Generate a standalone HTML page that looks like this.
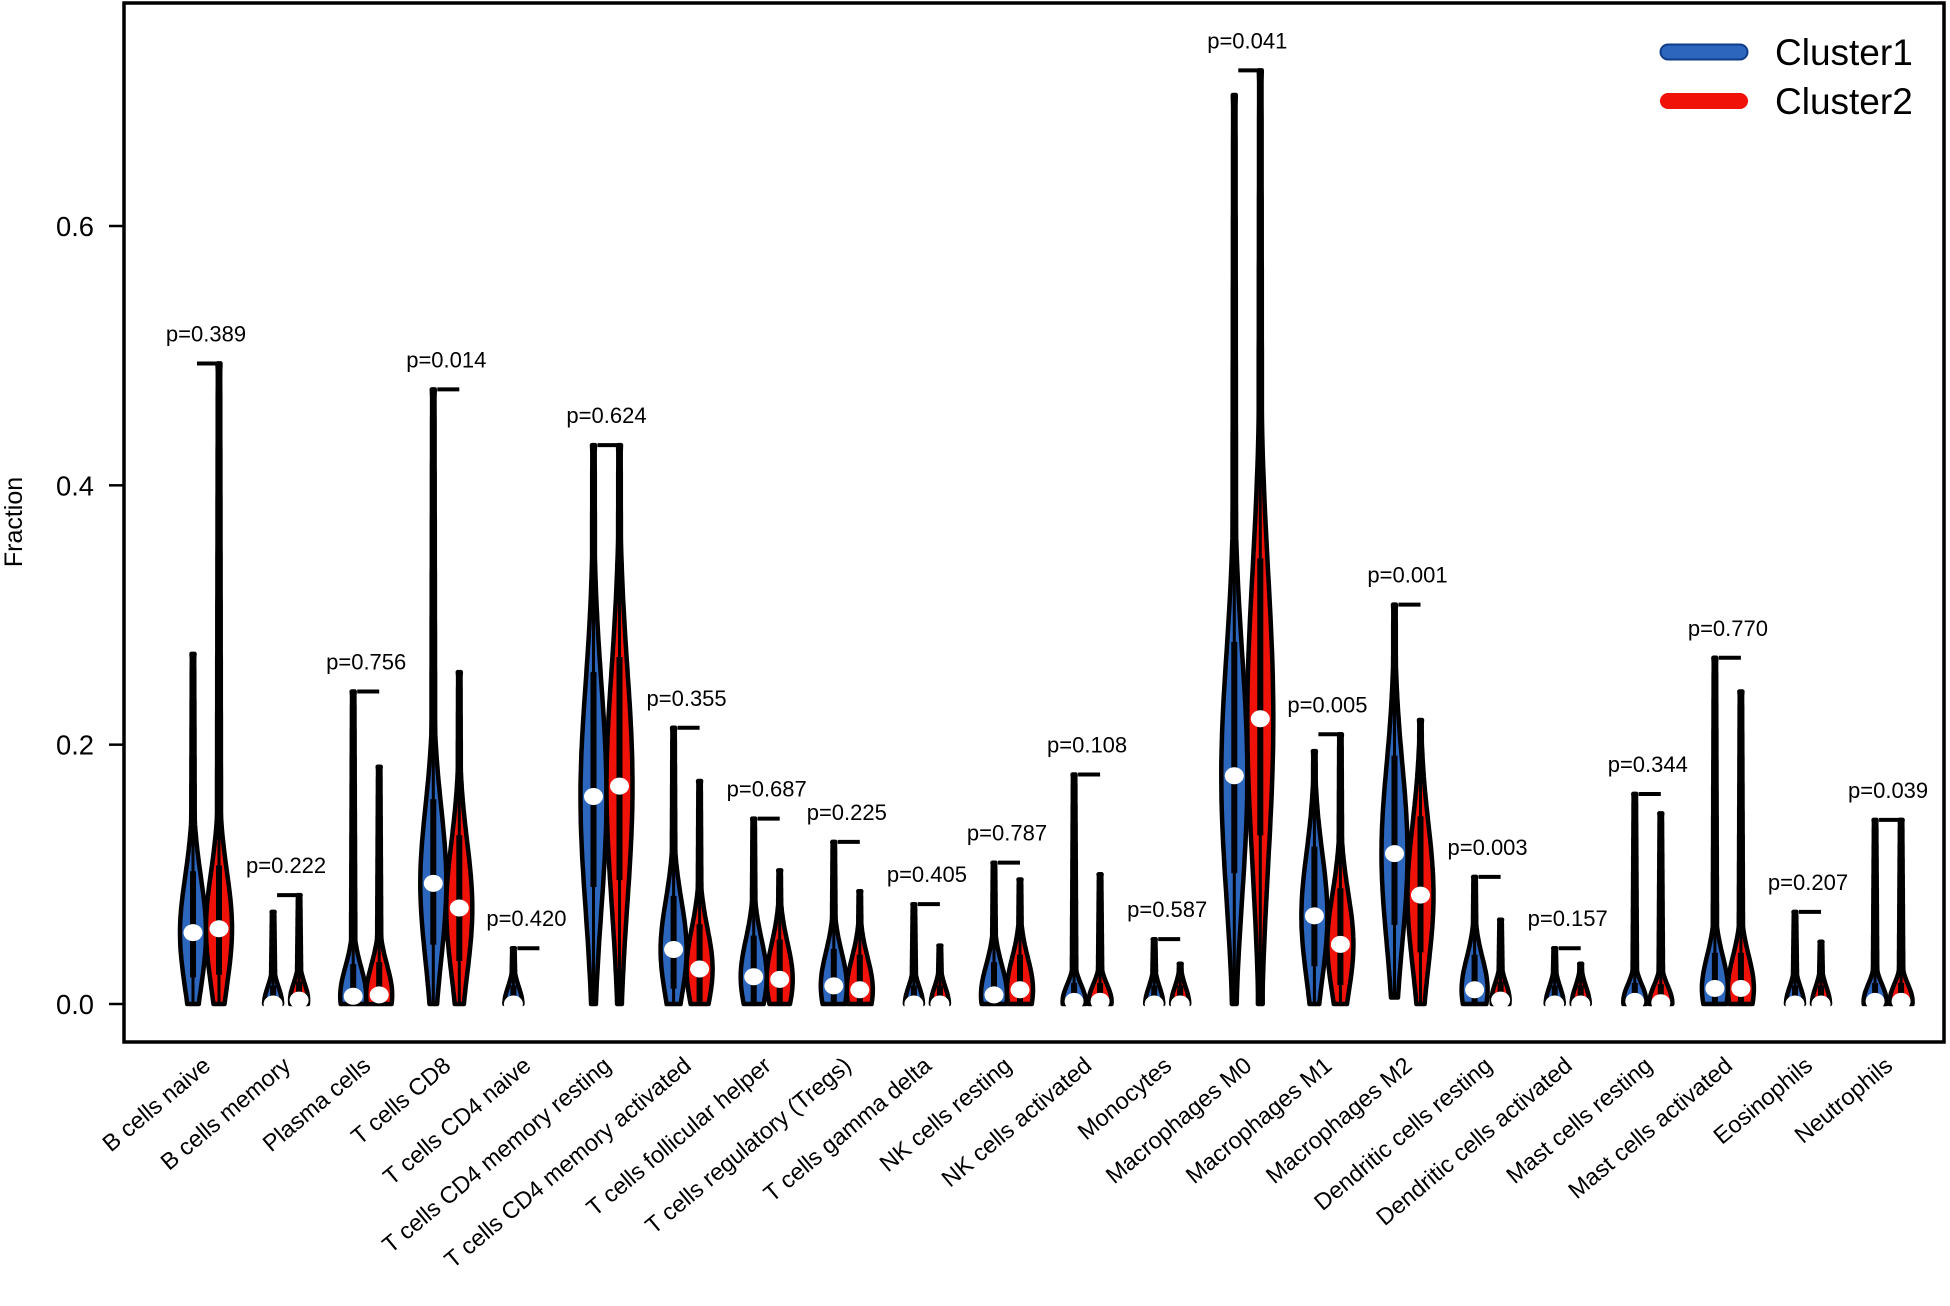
<!DOCTYPE html>
<html><head><meta charset="utf-8"><style>
html,body{margin:0;padding:0;background:#fff;}
svg{display:block;font-family:"Liberation Sans",Arial,sans-serif;}
</style></head><body>
<svg id="chart" width="1950" height="1306" viewBox="0 0 1950 1306">
<rect x="0" y="0" width="1950" height="1306" fill="#fff"/>
<g id="marks"></g>
<rect x="124" y="3" width="1820" height="1039" fill="none" stroke="#000" stroke-width="3.5"/>
<g id="yaxis"></g>
<g id="xaxis"></g>
<text x="22" y="522" transform="rotate(-90 22 522)" text-anchor="middle" font-size="25">Fraction</text>
<g>
<line x1="1668" y1="52" x2="1740" y2="52" stroke="#0d3c8a" stroke-width="17" stroke-linecap="round"/>
<line x1="1668" y1="52" x2="1740" y2="52" stroke="#2d66bd" stroke-width="13" stroke-linecap="round"/>
<text x="1775" y="65" font-size="37">Cluster1</text>
<line x1="1668" y1="101" x2="1740" y2="101" stroke="#f01208" stroke-width="16" stroke-linecap="round"/>
<text x="1775" y="114" font-size="37">Cluster2</text>
</g>
</svg>
<script>
const categories = ["B cells naive","B cells memory","Plasma cells","T cells CD8","T cells CD4 naive","T cells CD4 memory resting","T cells CD4 memory activated","T cells follicular helper","T cells regulatory (Tregs)","T cells gamma delta","NK cells resting","NK cells activated","Monocytes","Macrophages M0","Macrophages M1","Macrophages M2","Dendritic cells resting","Dendritic cells activated","Mast cells resting","Mast cells activated","Eosinophils","Neutrophils"];
const pValues = ["0.389","0.222","0.756","0.014","0.420","0.624","0.355","0.687","0.225","0.405","0.787","0.108","0.587","0.041","0.005","0.001","0.003","0.157","0.344","0.770","0.207","0.039"];
const c1Max = [0.270,0.071,0.241,0.474,0.043,0.431,0.213,0.143,0.125,0.077,0.109,0.177,0.050,0.701,0.195,0.308,0.098,0.043,0.162,0.267,0.071,0.142];
const c1Median = [0.055,0.000,0.006,0.093,0.000,0.160,0.042,0.021,0.014,0.000,0.007,0.002,0.000,0.176,0.068,0.116,0.011,0.000,0.002,0.012,0.000,0.002];
const c1Min = [0,0,0,0,0,0,0,0,0,0,0,0,0,0,0,0.005,0,0,0,0,0,0];
const c2Max = [0.494,0.084,0.183,0.256,0.003,0.431,0.172,0.103,0.087,0.045,0.096,0.100,0.031,0.720,0.208,0.219,0.065,0.031,0.147,0.241,0.048,0.142];
const c2Median = [0.058,0.003,0.007,0.074,0.000,0.168,0.027,0.019,0.011,0.000,0.011,0.002,0.000,0.220,0.046,0.084,0.003,0.000,0.001,0.012,0.000,0.002];
const c2Min = [0,0,0,0,0,0,0,0,0,0,0,0,0,0,0,0,0,0,0,0,0,0];
const yTicks = [0.0,0.2,0.4,0.6];
const yTickLabels = ["0.0","0.2","0.4","0.6"];

const NS="http://www.w3.org/2000/svg";
function yScale(v){return 1004 - v*(1004-226)/0.6;}
function xScale(i){return 206 + i*80.1;}
function mk(tag,attrs,parent){const e=document.createElementNS(NS,tag);for(const k in attrs)e.setAttribute(k,attrs[k]);parent.appendChild(e);return e;}
const marks=document.getElementById('marks');
const yaxis=document.getElementById('yaxis');
const xaxis=document.getElementById('xaxis');

yTicks.forEach((t,k)=>{
  const ln=mk('line',{x1:109,x2:124,y1:yScale(t),y2:yScale(t),stroke:'#000','stroke-width':2.5},yaxis);
  
  
  const tx=mk('text',{x:94,y:yScale(t)+10,'text-anchor':'end','font-size':28,'textLength':38,'lengthAdjust':'spacingAndGlyphs'},yaxis);
  tx.textContent=yTickLabels[k];
  
  
});

function violin(cx,mx,med,mn,fill,name){
  const sd=med<0.004?0.013:0.02+0.42*med;
  let hw = mx<0.01?3:(med<0.004?(mx<0.09?9:11.5):13);
  const steps=80,left=[],right=[];
  for(let s=0;s<=steps;s++){
    const v=mn+(mx-mn)*s/steps;
    let w=hw*Math.exp(-0.5*Math.pow((v-med)/sd,2));
    const tail=2.4*(1-(s/steps)*0.5);
    w=Math.max(w,tail);
    if(s===steps)w=1.5;
    left.push([cx-w,yScale(v)]);right.push([cx+w,yScale(v)]);
  }
  let d='M'+left.map(p=>p[0].toFixed(1)+','+p[1].toFixed(1)).join('L');
  d+='L'+right.reverse().map(p=>p[0].toFixed(1)+','+p[1].toFixed(1)).join('L')+'Z';
  const g=mk('g',{},marks);
  
  
  const p=mk('path',{d:d,fill:fill,stroke:'#000','stroke-width':4.5,'stroke-linejoin':'round'},g);
  
  
  const wl=mk('line',{x1:cx,x2:cx,y1:yScale(mn),y2:yScale(mx),stroke:'#000','stroke-width':3},g);
  
  
  const q1=Math.max(mn,med-sd*0.8),q3=Math.min(mx,med+sd*1.1);
  const bx=mk('line',{x1:cx,x2:cx,y1:yScale(q1),y2:yScale(q3),stroke:'#000','stroke-width':6},g);
  
  
  const dot=mk('ellipse',{cx:cx,cy:yScale(med),rx:9.5,ry:8.5,fill:'#fff'},g);
  
  
}

categories.forEach((c,i)=>{
  const gx=xScale(i), bxp=gx-13, rxp=gx+13;
  violin(bxp,c1Max[i],c1Median[i],c1Min[i],'#2d66bd','violin-cluster1-'+i);
  violin(rxp,c2Max[i],c2Median[i],c2Min[i],'#f01208','violin-cluster2-'+i);
  const top=Math.max(c1Max[i],c2Max[i]);
  const by=yScale(top);
  const br=mk('line',{x1:bxp+4,x2:rxp,y1:by,y2:by,stroke:'#000','stroke-width':4},marks);
  
  
  const pt=mk('text',{x:gx,y:by-22,'text-anchor':'middle','font-size':22},marks);
  pt.textContent='p='+pValues[i];
  
  
  const lx=gx+6, ly=1068;
  const xl=mk('text',{x:lx,y:ly,'text-anchor':'end','font-size':23.5,transform:'rotate(-40 '+lx+' '+ly+')'},xaxis);
  xl.textContent=c;
  
  
});
</script>
</body></html>
